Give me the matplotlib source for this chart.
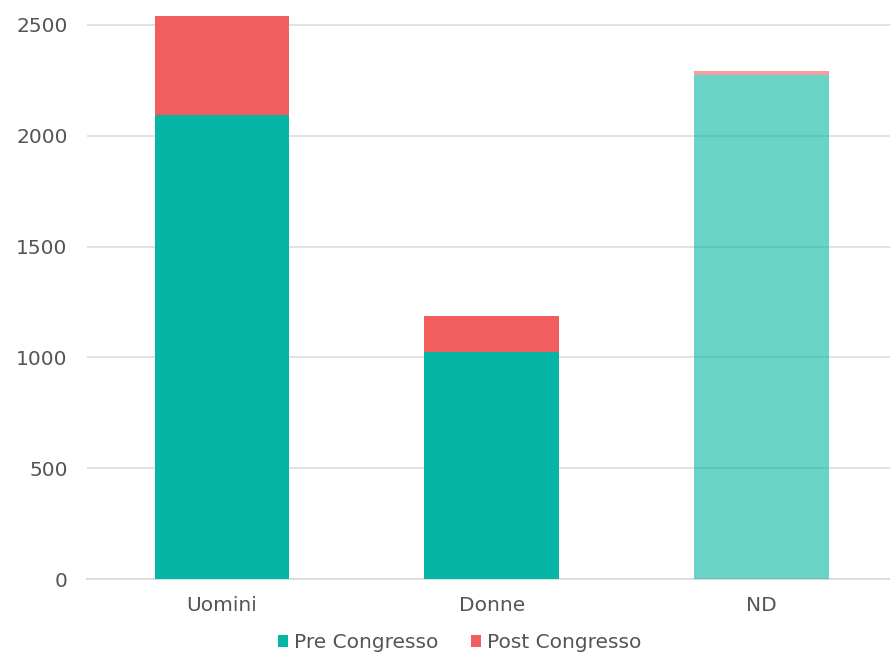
import matplotlib.pyplot as plt
import numpy as np

# 数据
categorie = ['Uomini', 'Donne', 'ND']
pre_congresso = [2095, 1025, 2275]
post_congresso = [445, 160, 17]
trasparenza = [1.0, 1.0, 0.6]

colore_pre = '#06b6a4'
colore_post = '#f25e5e'
grigio = '#555555'

plt.rcParams['font.family'] = ['DejaVu Sans']

fig = plt.figure(figsize=(8.9, 6.55), dpi=100)
ax = fig.add_axes([0.0978, 0.116, 0.9022, 0.8595])

x = np.arange(len(categorie))
for i in range(len(categorie)):
    ax.bar(x[i], pre_congresso[i], width=0.5, color=colore_pre, alpha=trasparenza[i],
           label='Pre Congresso' if i == 0 else None, zorder=3)
    ax.bar(x[i], post_congresso[i], width=0.5, bottom=pre_congresso[i], color=colore_post,
           alpha=trasparenza[i], label='Post Congresso' if i == 0 else None, zorder=3)

ax.set_xlim(-0.5, 2.475)
ax.set_ylim(0, 2540)
ax.set_yticks([0, 500, 1000, 1500, 2000, 2500])
ax.set_xticks(x)
ax.set_xticklabels(categorie)
ax.grid(axis='y', color='#dddddd', linewidth=1.2, zorder=0)
for s in ['top', 'right', 'left']:
    ax.spines[s].set_visible(False)
ax.spines['bottom'].set_color('#dddddd')
ax.spines['bottom'].set_linewidth(1.5)
ax.tick_params(axis='both', length=0, labelsize=14.5, labelcolor=grigio)
ax.tick_params(axis='y', pad=14)
ax.tick_params(axis='x', pad=12)

ax.legend(loc='center', bbox_to_anchor=(0.464, -0.113), ncol=2, frameon=False,
          fontsize=14.5, labelcolor=grigio, handlelength=0.5, handleheight=0.5,
          handletextpad=0.3, columnspacing=1.6, borderpad=0)

fig.savefig('out.png', dpi=100)
